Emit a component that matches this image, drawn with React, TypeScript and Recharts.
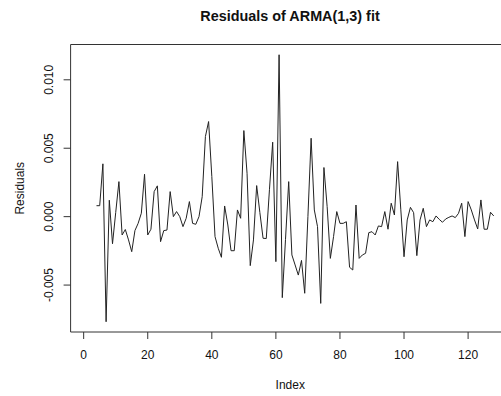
import { LineChart, Line, XAxis, YAxis, ReferenceArea } from "recharts";

const FONT = "'Liberation Sans', Arial, Helvetica, sans-serif";
const INK = "#111";

// residuals of the ARMA(1,3) fit, one per index starting at FIRST_INDEX
const FIRST_INDEX = 4;
const residuals = [
  0.0008, 0.0008, 0.00386, -0.00768, 0.0012, -0.00198, 0.0003, 0.00256, -0.00134, -0.00094,
  -0.0017, -0.00256, -0.00102, -0.00049, 0.00025, 0.0031, -0.00134, -0.00092, 0.00183, 0.00225,
  -0.00183, -0.00102, -0.00098, 0.00183, 0.0, 0.00037, 0.0, -0.00073, -0.00012, 0.0011,
  -0.00049, -0.00056, 0.0, 0.00146, 0.00585, 0.00695, 0.00293, -0.00146, -0.00231, -0.00297,
  0.00078, -0.00061, -0.00249, -0.00249, 0.00049, -0.00012, 0.00629, 0.00317, -0.00358, -0.0017,
  0.00227, 0.0003, -0.00158, -0.0016, 0.002, 0.00544, -0.00329, 0.01183, -0.00592, -0.00168,
  0.00256, -0.0028, -0.00353, -0.00427, -0.0032, -0.0056, 0.0, 0.00573, 0.00049, -0.00073,
  -0.00634, 0.00359, 0.00073, -0.00305, -0.00146, 0.00037, -0.00049, -0.00049, -0.00037, -0.0037,
  -0.0039, 0.00085, -0.00305, -0.0028, -0.00268, -0.00117, -0.0011, -0.00134, -0.00068, -0.00073,
  0.00037, -0.00092, 0.00098, 0.00012, 0.00402, 0.0005, -0.00293, -0.00024, 0.00068, 0.00029,
  -0.00285, -0.00024, 0.00061, -0.00073, -0.00024, -0.00037, 0.00005, -0.0002, -0.00041, -0.00017,
  -0.00005, 0.00005, -0.00007, 0.00024, 0.00098, -0.00146, 0.0011, 0.00049, -0.00024, -0.0009,
  0.00122, -0.00092, -0.00092, 0.00032, 0.00005,
];

const xTicks = [0, 20, 40, 60, 80, 100, 120];
const yTicks = [-0.005, 0, 0.005, 0.01];
const xDomain = [-4.08, 133.08];
const yDomain = [-0.00843, 0.01258];

const data = residuals.map((r, i) => ({ index: FIRST_INDEX + i, r }));

const XTick = ({ x, y, payload }: any) => (
  <text x={x} y={y + 18} textAnchor="middle" fontSize={12} fontFamily={FONT} fill={INK}>
    {payload.value}
  </text>
);

const YTick = ({ x, y, payload }: any) => (
  <text
    x={x - 8.7}
    y={y}
    textAnchor="middle"
    fontSize={12}
    fontFamily={FONT}
    fill={INK}
    transform={`rotate(-90, ${x - 8.7}, ${y})`}
  >
    {Number(payload.value).toFixed(3)}
  </text>
);

const XLabel = ({ viewBox }: any) => (
  <text x={viewBox.x + viewBox.width / 2} y={389} textAnchor="middle" fontSize={12} fontFamily={FONT} fill={INK}>
    Index
  </text>
);

const YLabel = ({ viewBox }: any) => {
  const cy = viewBox.y + viewBox.height / 2;
  return (
    <text x={24} y={cy} textAnchor="middle" fontSize={12} fontFamily={FONT} fill={INK} transform={`rotate(-90, 24, ${cy})`}>
      Residuals
    </text>
  );
};

export default function App() {
  return (
    <div style={{ position: "absolute", left: 0, top: 0, width: 501, height: 396, overflow: "hidden", background: "#fff" }}>
      <svg width={501} height={40} style={{ position: "absolute", left: 0, top: 0, pointerEvents: "none" }}>
        <text x={290} y={21} textAnchor="middle" fontWeight="bold" fontSize={14.4} fontFamily={FONT} fill={INK}>
          Residuals of ARMA(1,3) fit
        </text>
      </svg>
      <LineChart width={510} height={396} data={data} margin={{ top: 44.5, right: 0, bottom: 0, left: 0 }}>
        <XAxis
          dataKey="index"
          type="number"
          domain={xDomain}
          ticks={xTicks}
          interval={0}
          height={64}
          axisLine={false}
          tickSize={7}
          tickLine={{ stroke: "#333" }}
          tick={<XTick />}
          label={<XLabel />}
        />
        <YAxis
          type="number"
          domain={yDomain}
          ticks={yTicks}
          interval={0}
          width={70.6}
          axisLine={false}
          tickSize={7}
          tickLine={{ stroke: "#333" }}
          tick={<YTick />}
          label={<YLabel />}
        />
        <ReferenceArea
          x1={xDomain[0]}
          x2={xDomain[1]}
          y1={yDomain[0]}
          y2={yDomain[1]}
          fill="none"
          stroke="#333"
          strokeWidth={1}
          ifOverflow="visible"
        />
        <Line dataKey="r" type="linear" stroke="#222" strokeWidth={1} dot={false} isAnimationActive={false} />
      </LineChart>
    </div>
  );
}
